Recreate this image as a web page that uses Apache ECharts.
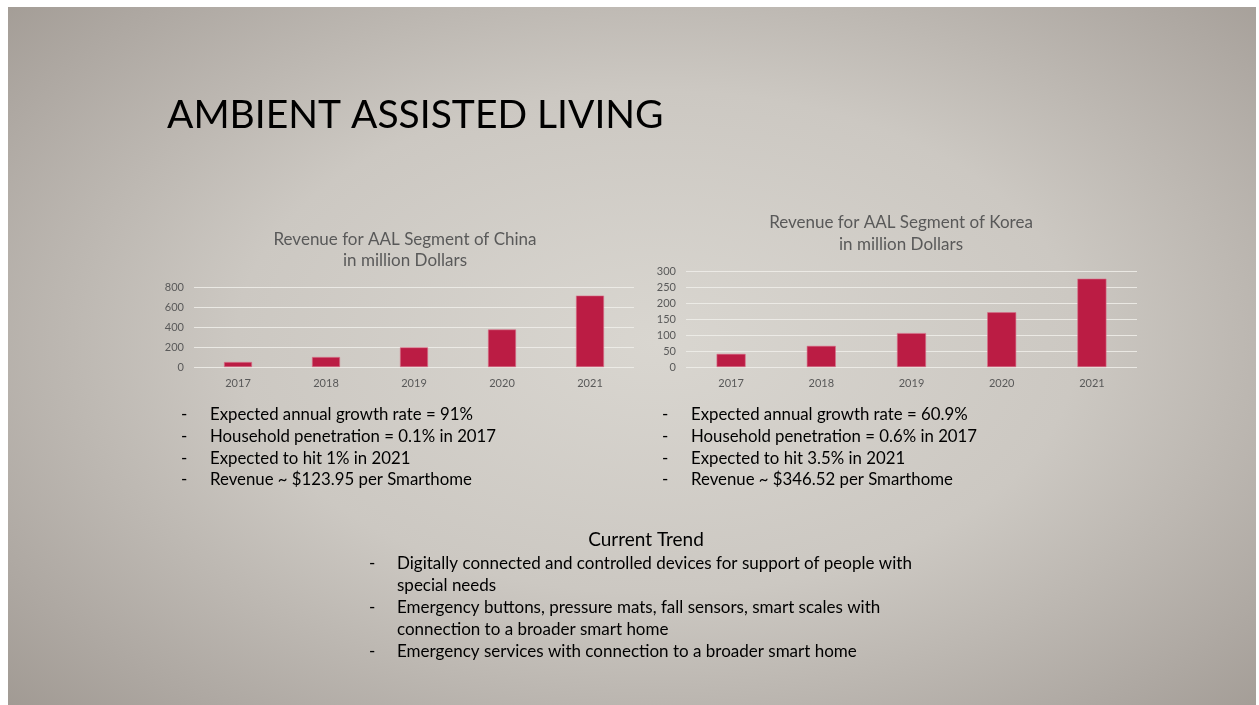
<!DOCTYPE html>
<html lang="en">
<head>
  <meta charset="UTF-8">
  <title>Ambient Assisted Living</title>
  <style>
    html, body { margin: 0; padding: 0; background: #fff; }
    #bg {
      position: absolute; left: 8px; top: 7px; width: 1248px; height: 698px;
      background: radial-gradient(ellipse 75% 80% at 52% 48%, #d9d6d0 0%, #ccc8c2 45%, #aea8a2 80%, #9d968f 100%);
    }
    #main { position: absolute; left: 0; top: 0; width: 1259px; height: 705px; }
  </style>
</head>
<body>
<div id="bg"></div>
<div id="main"></div>
<script src="https://cdn.jsdelivr.net/npm/echarts@6/dist/echarts.min.js"></script>
<script>
  // data
  var years = ['2017', '2018', '2019', '2020', '2021'];
  var chinaRevenue = [50, 100, 196, 375, 714];
  var koreaRevenue = [41, 66, 106, 171, 276];

  var chinaNotes = [
    'Expected annual growth rate = 91%',
    'Household penetration = 0.1% in 2017',
    'Expected to hit 1% in 2021',
    'Revenue ~ $123.95 per Smarthome'
  ];
  var koreaNotes = [
    'Expected annual growth rate = 60.9%',
    'Household penetration = 0.6% in 2017',
    'Expected to hit 3.5% in 2021',
    'Revenue ~ $346.52 per Smarthome'
  ];
  var trendLines = [
    ['Digitally connected and controlled devices for support of people with', 'special needs'],
    ['Emergency buttons, pressure mats, fall sensors, smart scales with', 'connection to a broader smart home'],
    ['Emergency services with connection to a broader smart home']
  ];

  var FONT = 'Lato, "Open Sans", sans-serif';
  var BAR = '#bb1c44';

  function txt(x, y, s, size, color, align) {
    return {
      type: 'text', x: x, y: y,
      style: { text: s, fontSize: size, fontFamily: FONT, fill: color || '#000',
               textAlign: align || 'left', textVerticalAlign: 'middle' }
    };
  }

  var graphics = [];
  graphics.push(txt(167, 115, 'AMBIENT ASSISTED LIVING', 39, '#000'));

  chinaNotes.forEach(function (s, i) {
    var y = 415 + i * 21.6;
    graphics.push(txt(181, y, '-', 17));
    graphics.push(txt(210, y, s, 16.8));
  });
  koreaNotes.forEach(function (s, i) {
    var y = 415 + i * 21.6;
    graphics.push(txt(662, y, '-', 17));
    graphics.push(txt(691, y, s, 16.8));
  });

  graphics.push(txt(646, 540, 'Current Trend', 19, '#000', 'center'));
  var ty = 564;
  trendLines.forEach(function (lines) {
    graphics.push(txt(369, ty, '-', 17));
    lines.forEach(function (l) {
      graphics.push(txt(397, ty, l, 17));
      ty += 21.8;
    });
  });

  function yAx(gi, max, interval) {
    return {
      type: 'value', gridIndex: gi, min: 0, max: max, interval: interval,
      axisLine: { show: false }, axisTick: { show: false },
      axisLabel: { color: '#595959', fontSize: 11, fontFamily: FONT, margin: 10 },
      splitLine: { lineStyle: { color: 'rgba(240,238,234,0.85)', width: 1 } }
    };
  }
  function xAx(gi) {
    return {
      type: 'category', gridIndex: gi, data: years,
      axisLine: { show: false }, axisTick: { show: false },
      axisLabel: { color: '#595959', fontSize: 11, fontFamily: FONT, margin: 11 }
    };
  }

  var chart = echarts.init(document.getElementById('main'));
  chart.setOption({
    animation: false,
    title: [
      { text: 'Revenue for AAL Segment of China\nin million Dollars', left: 400, top: 224, textAlign: 'center',
        textStyle: { color: '#595959', fontSize: 17, fontWeight: 'normal', fontFamily: FONT, lineHeight: 21 } },
      { text: 'Revenue for AAL Segment of Korea\nin million Dollars', left: 896, top: 207, textAlign: 'center',
        textStyle: { color: '#595959', fontSize: 17, fontWeight: 'normal', fontFamily: FONT, lineHeight: 22 } }
    ],
    grid: [
      { left: 194, right: 625, top: 287, bottom: 338 },
      { left: 686, right: 122, top: 271, bottom: 338 }
    ],
    xAxis: [xAx(0), xAx(1)],
    yAxis: [yAx(0, 800, 200), yAx(1, 300, 50)],
    series: [
      { type: 'bar', xAxisIndex: 0, yAxisIndex: 0, data: chinaRevenue, barWidth: 28,
        itemStyle: { color: BAR, borderColor: '#d9728c', borderWidth: 0.6 } },
      { type: 'bar', xAxisIndex: 1, yAxisIndex: 1, data: koreaRevenue, barWidth: 29,
        itemStyle: { color: BAR, borderColor: '#d9728c', borderWidth: 0.6 } }
    ],
    graphic: graphics
  });
  window.addEventListener('resize', function () { chart.resize(); });
</script>
</body>
</html>
